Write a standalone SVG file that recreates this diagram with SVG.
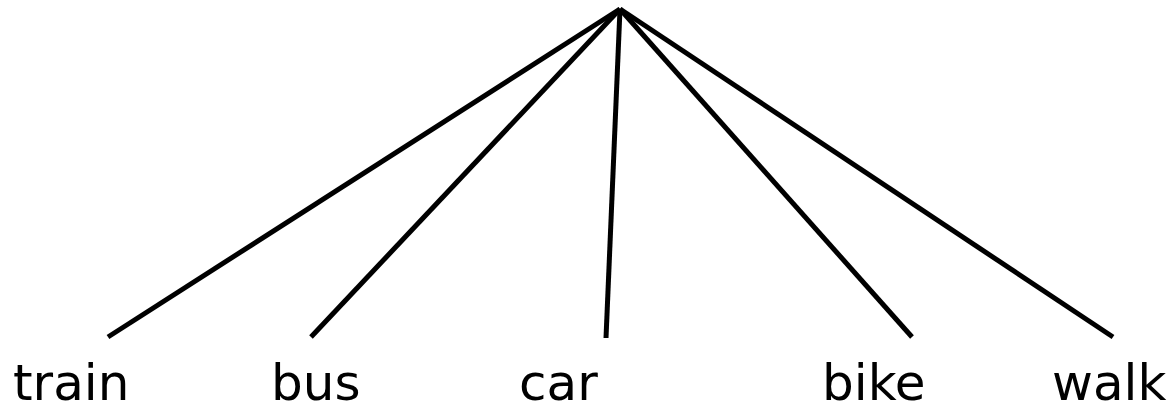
<svg xmlns="http://www.w3.org/2000/svg" width="1174" height="405" viewBox="0 0 1174 405">
<style>
.edge{stroke:#000;stroke-width:5;fill:none;stroke-linecap:butt}
.lbl{font-family:"DejaVu Sans",Verdana,sans-serif;font-size:50px;fill:#000}
</style>
<rect width="1174" height="405" fill="#fff"/>
<g id="connectors">
<line class="edge" x1="620" y1="9" x2="108" y2="337"/>
<line class="edge" x1="620" y1="9" x2="311" y2="337"/>
<line class="edge" x1="620" y1="9" x2="606" y2="338"/>
<line class="edge" x1="620" y1="9" x2="912" y2="337"/>
<line class="edge" x1="620" y1="9" x2="1113" y2="337"/>
</g>
<g id="node-train"><text class="lbl" x="13" y="400">train</text></g>
<g id="node-bus"><text class="lbl" x="271" y="400">bus</text></g>
<g id="node-car"><text class="lbl" x="519" y="400">car</text></g>
<g id="node-bike"><text class="lbl" x="822" y="400">bike</text></g>
<g id="node-walk"><text class="lbl" x="1052" y="400">walk</text></g>
</svg>
